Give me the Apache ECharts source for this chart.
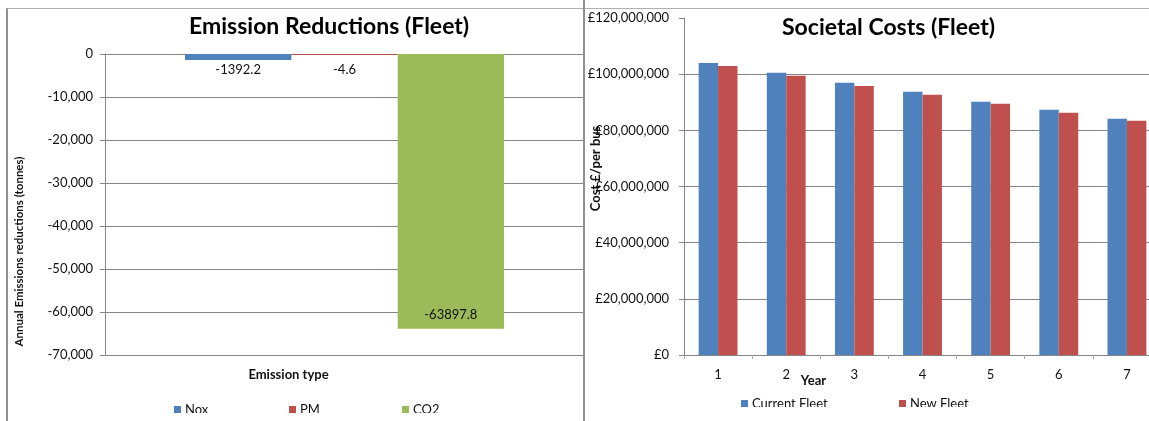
<!DOCTYPE html>
<html>
<head>
<meta charset="utf-8">
<script src="https://cdn.jsdelivr.net/npm/echarts@6/dist/echarts.min.js"></script>
<style>
  html, body { margin: 0; padding: 0; background: #fff; overflow: hidden; width: 1149px; height: 421px; }
  #page { position: relative; width: 1149px; height: 421px; overflow: hidden; }
  #emis { position: absolute; left: 0; top: 0; width: 584px; height: 413px; }
  #cost { position: absolute; left: 584px; top: 0; width: 577px; height: 407px; }
  .rule { position: absolute; background: #8f8f8f; }
</style>
</head>
<body>
<div id="page">
  <div id="emis"></div>
  <div id="cost"></div>
  <div class="rule" style="left:6px;top:8px;width:2px;height:413px"></div>
  <div class="rule" style="left:7px;top:8px;width:1142px;height:1px;background:#b0b0b0"></div>
  <div class="rule" style="left:583px;top:0;width:2px;height:421px"></div>
</div>
<script>
// Emission reductions per pollutant (tonnes / year)
const emissionTypes = ['Nox', 'PM', 'CO2'];
const emissionValues = [-1392.2, -4.6, -63897.8];

// Societal costs per year (GBP)
const years = ['1', '2', '3', '4', '5', '6', '7'];
const currentFleet = [104000000, 100500000, 96900000, 93700000, 90200000, 87300000, 84100000];
const newFleet = [102900000, 99400000, 95800000, 92700000, 89500000, 86300000, 83400000];

const FONT = 'Lato, "Liberation Sans", sans-serif';
const GRID = '#868686';
const TEXT = '#111';
const BLUE = '#4F81BD', RED = '#C0504D', GREEN = '#9BBB59';

const legendItem = (name, left, top) => ({
  data: [name], left, top, padding: 0, icon: 'rect', itemWidth: 7, itemHeight: 7,
  itemGap: 0, textStyle: { fontFamily: FONT, fontSize: 13, color: TEXT, padding: [0, 0, 0, -1] }
});

// ---- Emission Reductions (Fleet) ----
const emisColors = [BLUE, RED, GREEN];
const emisLabels = [
  { position: 'bottom', distance: 3 },
  { position: 'bottom', distance: 8 },
  { position: 'insideBottom', distance: 7 }
];
const emis = echarts.init(document.getElementById('emis'), null, { renderer: 'canvas' });
emis.setOption({
  animation: false,
  backgroundColor: 'transparent',
  title: {
    text: 'Emission Reductions (Fleet)', left: 189, top: 15, padding: 0,
    textStyle: { fontFamily: FONT, fontWeight: 'bold', fontSize: 23, color: '#000' }
  },
  legend: [legendItem('Nox', 174, 403), legendItem('PM', 289, 403), legendItem('CO2', 402, 403)],
  grid: { left: 105, top: 54, right: 0, bottom: 58, outerBoundsMode: 'none' },
  xAxis: {
    type: 'category', data: [''],
    axisLine: { show: false, onZero: false }, axisTick: { show: false }, axisLabel: { show: false },
    name: 'Emission type', nameLocation: 'middle', nameGap: 13, nameMoveOverlap: false,
    nameTextStyle: { fontFamily: FONT, fontWeight: 'bold', fontSize: 13, color: TEXT, padding: [0, 112, 0, 0] }
  },
  yAxis: {
    type: 'value', min: -70000, max: 0, interval: 10000,
    axisLine: { show: true, lineStyle: { color: GRID } },
    axisTick: { show: true, length: 5, lineStyle: { color: GRID } },
    splitLine: { show: true, lineStyle: { color: GRID } },
    axisLabel: {
      margin: 12, fontFamily: FONT, fontSize: 13, color: TEXT,
      formatter: v => v.toLocaleString('en-US')
    },
    name: 'Annual Emissions reductions (tonnes)', nameLocation: 'middle', nameRotate: 90, nameGap: 80,
    nameMoveOverlap: false,
    nameTextStyle: { fontFamily: FONT, fontWeight: 'bold', fontSize: 11.5, color: TEXT, padding: [0, 94, 0, 0] }
  },
  series: emissionTypes.map((name, i) => ({
    name, type: 'bar', data: [emissionValues[i]],
    barGap: 0, barCategoryGap: '33.4%', barMinHeight: 1,
    itemStyle: { color: emisColors[i] },
    label: {
      show: true, position: emisLabels[i].position, distance: emisLabels[i].distance,
      fontFamily: FONT, fontSize: 13, color: TEXT, formatter: p => String(p.value)
    }
  }))
});

// ---- Societal Costs (Fleet) ----
const cost = echarts.init(document.getElementById('cost'), null, { renderer: 'canvas' });
cost.setOption({
  animation: false,
  backgroundColor: 'transparent',
  title: {
    text: 'Societal Costs (Fleet)', left: 198, top: 16, padding: 0,
    textStyle: { fontFamily: FONT, fontWeight: 'bold', fontSize: 23, color: '#000' }
  },
  legend: [legendItem('Current Fleet', 157, 397), legendItem('New Fleet', 315, 397)],
  grid: { left: 100, top: 18, right: 0, bottom: 52, outerBoundsMode: 'none' },
  xAxis: {
    type: 'category', data: years,
    axisLine: { show: true, onZero: false, lineStyle: { color: GRID } },
    axisTick: { show: true, length: 4, lineStyle: { color: '#aaa' } },
    axisLabel: { margin: 13, fontFamily: FONT, fontSize: 13, color: TEXT },
    name: 'Year', nameLocation: 'middle', nameGap: 19, nameMoveOverlap: false,
    nameTextStyle: { fontFamily: FONT, fontWeight: 'bold', fontSize: 13, color: TEXT, padding: [0, 218, 0, 0] }
  },
  yAxis: {
    type: 'value', min: 0, max: 120000000, interval: 20000000,
    axisLine: { show: true, lineStyle: { color: GRID } },
    axisTick: { show: true, length: 5, lineStyle: { color: GRID } },
    splitLine: { show: true, lineStyle: { color: [GRID, GRID, GRID, GRID, GRID, GRID, 'rgba(0,0,0,0)'] } },
    axisLabel: {
      margin: 15, fontFamily: FONT, fontSize: 13, color: TEXT,
      formatter: v => '£' + v.toLocaleString('en-GB')
    },
    name: 'Cost £/per bus', nameLocation: 'middle', nameRotate: 90, nameGap: 82, nameMoveOverlap: false,
    nameTextStyle: { fontFamily: FONT, fontWeight: 'bold', fontSize: 13, color: TEXT, padding: [0, 0, 0, 36] }
  },
  series: [
    { name: 'Current Fleet', type: 'bar', data: currentFleet, barGap: 0, barCategoryGap: '43%', itemStyle: { color: BLUE } },
    { name: 'New Fleet', type: 'bar', data: newFleet, barGap: 0, barCategoryGap: '43%', itemStyle: { color: RED } }
  ]
});
</script>
</body>
</html>
